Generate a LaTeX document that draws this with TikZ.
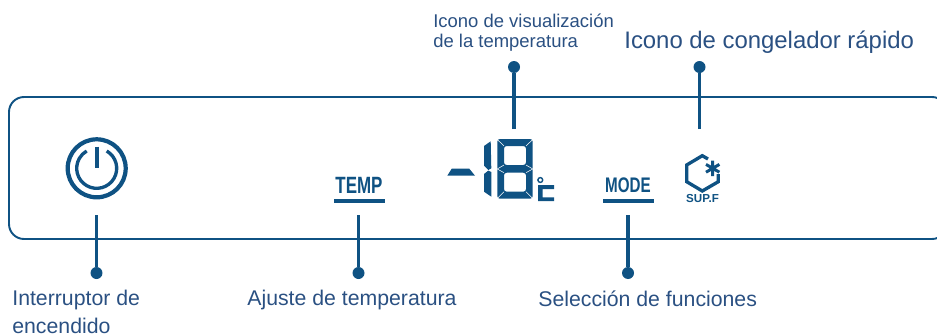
\documentclass[tikz,border=0pt]{standalone}
\usepackage{fontspec}
\setmainfont{Liberation Sans}
\newfontfamily\narrowfont[FakeStretch=0.72]{Liberation Sans}
\definecolor{panelblue}{HTML}{0F5283}
\definecolor{labelblue}{HTML}{2A5082}
\begin{document}
\begin{tikzpicture}[x=0.02cm,y=-0.02cm]
  \tikzset{
    bignote/.style={text=labelblue,inner sep=0pt,font=\fontsize{12.1pt}{16pt}\selectfont,align=left},
    smallnote/.style={text=labelblue,inner sep=0pt,font=\fontsize{10.5pt}{11.4pt}\selectfont,align=left},
    keyname/.style={text=panelblue,inner sep=0pt,font=\narrowfont\bfseries\fontsize{12pt}{13pt}\selectfont},
    leader/.style={draw=panelblue,line width=1.9pt},
    dotend/.style={circle,fill=panelblue,inner sep=0pt,minimum size=0.24cm},
    keybar/.style={fill=panelblue}
  }
  \useasboundingbox (0,0) rectangle (937,335);
  \draw[panelblue,line width=1.1pt,rounded corners=0.3cm] (9,97) rectangle (947,239);

  % power symbol
  \draw[panelblue,line width=2.4pt] (96.7,168.3) circle (29);
  \draw[panelblue,line width=1.9pt] (106.7,151) arc (-60:240:20);
  \draw[panelblue,line width=2.4pt] (96.7,146.7) -- (96.7,167.7);

  % minus and digits
  \fill[panelblue] (447.3,175.7) -- (451.7,168.7) -- (469.3,168.7) -- (475,175.7) -- cycle;
  \fill[panelblue] (484,146) -- (490.7,141.3) -- (491.3,168.3) -- (488.3,170) -- (484,165.7) -- cycle;
  \fill[panelblue] (484,174) -- (488.3,170.6) -- (491.3,172) -- (491.3,196.7) -- (484,191.7) -- cycle;
  \fill[panelblue,even odd rule,rounded corners=1.5pt] (497.3,139) rectangle (532.7,198.7)
    (504,146) rectangle (526,165) (504,172.7) rectangle (526,191.7);
  \draw[white,line width=0.3pt] (497.3,139.5) -- (504,146) (532.7,139.5) -- (526,146)
    (497.3,198.5) -- (504,191.7) (532.7,198.5) -- (526,191.7)
    (497.3,169) -- (504,165) (532.7,169) -- (526,165) (497.3,169) -- (504,172.7) (532.7,169) -- (526,172.7);
  \draw[panelblue,line width=0.8pt] (540.3,180) circle (2.4);
  \fill[panelblue] (554,185) -- (538,185) -- (538,201) -- (554,201) -- (554,197.3) -- (542.7,197.3) -- (542.7,189) -- (554,189) -- cycle;

  % key names
  \node[keyname,font=\narrowfont\bfseries\fontsize{13.4pt}{14pt}\selectfont] (temp) at (359,185) {TEMP};
  \fill[keybar] (334,198.5) rectangle (385,202.5);
  \node[keyname] (mode) at (628,185) {MODE};
  \fill[keybar] (603,199) rectangle (654,203);

  % hexagon icon
  \draw[panelblue,line width=1.9pt] (708,159) -- (702.3,155.7) -- (686.7,165) -- (686.7,181.7) -- (702.3,191) -- (718.3,181.7) -- (718.3,174);
  \draw[panelblue,line width=1.7pt] (712.7,160.5) -- (712.7,176) (706,164.4) -- (719.4,172.2) (706,172.2) -- (719.4,164.4);
  \node[keyname,font=\bfseries\fontsize{6.6pt}{7pt}\selectfont] (supf) at (702.5,198.5) {SUP.F};

  % leaders
  \coordinate (power_in) at (96.5,215);
  \coordinate (temp_in) at (358.5,215);
  \coordinate (mode_in) at (628,215);
  \coordinate (digit_in) at (514,129);
  \coordinate (fast_in) at (699.5,129);
  \node[dotend] (power_dot) at (96.5,273) {};
  \node[dotend] (temp_dot) at (358.5,273) {};
  \node[dotend] (mode_dot) at (628,273) {};
  \node[dotend] (digit_dot) at (514,67) {};
  \node[dotend] (fast_dot) at (699.5,67) {};
  \draw[leader] (power_in) -- (power_dot);
  \draw[leader] (temp_in) -- (temp_dot);
  \draw[leader] (mode_in) -- (mode_dot);
  \draw[leader] (digit_in) -- (digit_dot);
  \draw[leader] (fast_in) -- (fast_dot);

  % labels
  \node[bignote,anchor=north west] (power_text) at (12,290) {Interruptor de\\encendido};
  \node[bignote,anchor=north west] (temp_text) at (247,290) {Ajuste de temperatura};
  \node[bignote,anchor=north west] (mode_text) at (538,290) {Selección de funciones};
  \node[smallnote,anchor=north west] (digit_text) at (433,14) {Icono de visualización\\de la temperatura};
  \node[bignote,font=\fontsize{13.6pt}{16pt}\selectfont,anchor=north west] (fast_text) at (624,31) {Icono de congelador rápido};
\end{tikzpicture}
\end{document}
